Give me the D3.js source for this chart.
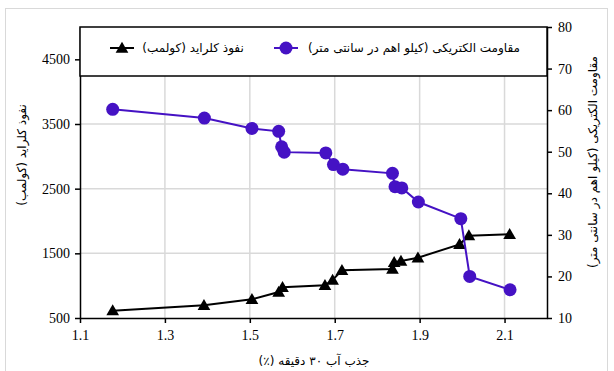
<!DOCTYPE html>
<html>
  <head>
    <meta charset="UTF-8" />
    <style>
      body {
        margin: 0;
        background: #fff;
        font-family: "Liberation Serif", "DejaVu Sans", serif;
      }
      .fa {
        font-family: "DejaVu Sans", sans-serif;
      }
    </style>
  </head>
  <body>
    <svg></svg>
    <script src="https://d3js.org/d3.v7.min.js"></script>
    <script>
      // Chloride penetration (coulomb) vs 30-min water absorption (%)
      let chlorideX = [1.177, 1.392, 1.505, 1.568, 1.577, 1.677, 1.695, 1.717, 1.836, 1.840, 1.856, 1.896, 1.994, 2.016, 2.112];
      let chlorideY = [613, 696, 789, 902, 975, 1005, 1087, 1237, 1258, 1361, 1381, 1432, 1639, 1773, 1794];

      // Electrical resistivity (kOhm.cm)
      let resistX = [1.177, 1.393, 1.505, 1.568, 1.575, 1.581, 1.679, 1.697, 1.719, 1.836, 1.842, 1.858, 1.897, 1.997, 2.018, 2.113];
      let resistY = [60.2, 58.1, 55.6, 54.9, 51.2, 49.9, 49.7, 46.9, 45.8, 44.8, 41.6, 41.3, 37.9, 33.9, 20.0, 16.8];

      let xTicks = [1.1, 1.3, 1.5, 1.7, 1.9, 2.1];
      let leftTicks = [500, 1500, 2500, 3500, 4500];
      let rightTicks = [10, 20, 30, 40, 50, 60, 70, 80];

      let labelChloride = "نفوذ کلراید (کولمب)";
      let labelResist = "مقاومت الکتریکی (کیلو اهم در سانتی متر)";
      let labelX = "جذب آب ۳۰ دقیقه (٪)";

      let width = 614,
        height = 371;
      let m = { left: 80, right: 547, top: 27, bottom: 318 };

      let svg = d3.select("svg").attr("width", width).attr("height", height);

      // outer frame
      svg
        .append("rect")
        .attr("x", 5.5)
        .attr("y", 8.5)
        .attr("width", 602)
        .attr("height", 372)
        .attr("fill", "none")
        .attr("stroke", "#d9d9d9");

      let x = d3.scaleLinear().domain([1.1, 2.2]).range([m.left, m.right]);
      let yL = d3.scaleLinear().domain([500, 5000]).range([m.bottom, m.top]);
      let yR = d3.scaleLinear().domain([10, 80]).range([m.bottom, m.top]);

      // grid
      let grid = svg.append("g").attr("stroke", "#d9d9d9").attr("stroke-width", 1.5);
      grid
        .selectAll(".gx")
        .data(xTicks.slice(1))
        .enter()
        .append("line")
        .attr("x1", (d) => x(d))
        .attr("x2", (d) => x(d))
        .attr("y1", m.top)
        .attr("y2", m.bottom);
      grid
        .selectAll(".gy")
        .data(leftTicks.slice(1))
        .enter()
        .append("line")
        .attr("x1", m.left)
        .attr("x2", m.right)
        .attr("y1", (d) => yL(d))
        .attr("y2", (d) => yL(d));

      // axes
      function styleAxis(g) {
        g.attr("font-family", "Liberation Serif").attr("font-size", 14);
        g.selectAll("path, line").attr("stroke", "#000").attr("stroke-width", 1.5);
        g.selectAll("text").attr("fill", "#000");
      }

      svg
        .append("g")
        .attr("transform", "translate(0," + m.bottom + ")")
        .call(d3.axisBottom(x).tickValues(xTicks).tickFormat(d3.format(".1f")).tickSize(5).tickSizeOuter(0).tickPadding(7))
        .call(styleAxis);

      svg
        .append("g")
        .attr("transform", "translate(" + m.left + ",0)")
        .call(d3.axisLeft(yL).tickValues(leftTicks).tickFormat(d3.format("d")).tickSize(5).tickSizeOuter(0).tickPadding(5))
        .call(styleAxis);

      svg
        .append("g")
        .attr("transform", "translate(" + m.right + ",0)")
        .call(d3.axisRight(yR).tickValues(rightTicks).tickFormat(d3.format("d")).tickSize(5).tickSizeOuter(0).tickPadding(6))
        .call(styleAxis);

      // series
      let purple = "#4512c4";
      let lineR = d3.line().x((d) => x(d[0])).y((d) => yR(d[1]));
      let lineL = d3.line().x((d) => x(d[0])).y((d) => yL(d[1]));
      let resist = resistX.map((v, i) => [v, resistY[i]]);
      let chloride = chlorideX.map((v, i) => [v, chlorideY[i]]);

      svg.append("path").datum(chloride).attr("d", lineL).attr("fill", "none").attr("stroke", "#000").attr("stroke-width", 2);
      svg
        .append("g")
        .selectAll("path")
        .data(chloride)
        .enter()
        .append("path")
        .attr("d", d3.symbol().type(d3.symbolTriangle).size(70))
        .attr("transform", (d) => "translate(" + x(d[0]) + "," + (yL(d[1]) + 1) + ")")
        .attr("fill", "#000");

      svg.append("path").datum(resist).attr("d", lineR).attr("fill", "none").attr("stroke", purple).attr("stroke-width", 2);
      svg
        .append("g")
        .selectAll("circle")
        .data(resist)
        .enter()
        .append("circle")
        .attr("cx", (d) => x(d[0]))
        .attr("cy", (d) => yR(d[1]))
        .attr("r", 6.5)
        .attr("fill", purple);

      // legend
      let lg = svg.append("g");
      lg.append("rect")
        .attr("x", m.left)
        .attr("y", m.top)
        .attr("width", m.right - m.left)
        .attr("height", 49)
        .attr("fill", "#fff")
        .attr("stroke", "#000")
        .attr("stroke-width", 1.5);

      let ly = 48;
      lg.append("line").attr("x1", 110).attr("x2", 134).attr("y1", ly).attr("y2", ly).attr("stroke", "#000").attr("stroke-width", 2);
      lg.append("path")
        .attr("d", d3.symbol().type(d3.symbolTriangle).size(70))
        .attr("transform", "translate(122," + (ly + 1) + ")");
      lg.append("text")
        .attr("class", "fa")
        .attr("x", 193)
        .attr("y", ly + 4)
        .attr("direction", "rtl")
        .attr("text-anchor", "middle")
        .style("font-size", "12px")
        .text(labelChloride);

      lg.append("line").attr("x1", 274).attr("x2", 298).attr("y1", ly).attr("y2", ly).attr("stroke", purple).attr("stroke-width", 2);
      lg.append("circle").attr("cx", 286).attr("cy", ly).attr("r", 6.5).attr("fill", purple);
      lg.append("text")
        .attr("class", "fa")
        .attr("x", 414)
        .attr("y", ly + 4)
        .attr("direction", "rtl")
        .attr("text-anchor", "middle")
        .style("font-size", "12px")
        .text(labelResist);

      // axis titles
      svg
        .append("text")
        .attr("class", "fa")
        .attr("transform", "translate(26,155) rotate(-90)")
        .attr("direction", "rtl")
        .attr("text-anchor", "middle")
        .style("font-size", "12px")
        .text(labelChloride);

      svg
        .append("text")
        .attr("class", "fa")
        .attr("transform", "translate(597,162) rotate(-90)")
        .attr("direction", "rtl")
        .attr("text-anchor", "middle")
        .style("font-size", "12px")
        .text(labelResist);

      svg
        .append("text")
        .attr("class", "fa")
        .attr("x", 314)
        .attr("y", 365)
        .attr("direction", "rtl")
        .attr("text-anchor", "middle")
        .style("font-size", "12px")
        .text(labelX);
    </script>
  </body>
</html>
